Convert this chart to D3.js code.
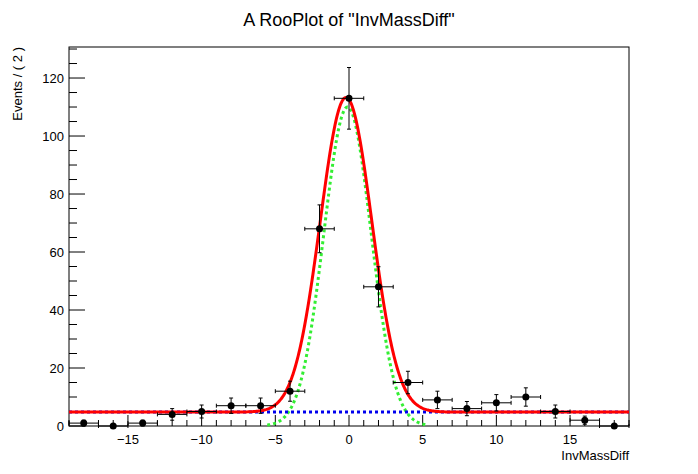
<!DOCTYPE html>
<html>
<head>
<meta charset="utf-8">
<script src="https://cdn.jsdelivr.net/npm/d3@7"></script>
<style>
body { margin: 0; background: #fff; }
text { font-family: "Liberation Sans", Arial, sans-serif; }
</style>
</head>
<body>
<div id="chart"></div>
<script>
// binned data (bin width 2)
const binCenters = [-18, -16, -14, -12, -10, -8, -6, -4, -2, 0, 2, 4, 6, 8, 10, 12, 14, 16, 18];
const counts = [1, 0, 1, 4, 5, 7, 7, 12, 68, 113, 48, 15, 9, 6, 8, 10, 5, 2, 0];
const xTicks = [-15, -10, -5, 0, 5, 10, 15];
const yTicks = [0, 20, 40, 60, 80, 100, 120];

// fitted model
const bkgLevel = 4.8;
const sigAmp = 108.5, sigMean = -0.2, sigSigma = 1.75;
const greenAmp = 110, greenMean = -0.1, greenSigma = 1.6;

const width = 698, height = 474;
const padL = 69, padR = 629, padT = 47, padB = 426;

const svg = d3.select("#chart").append("svg")
    .attr("width", width).attr("height", height);

const x = d3.scaleLinear().domain([-19, 19]).range([padL, padR]);
const y = d3.scaleLinear().domain([0, 130.7]).range([padB, padT]);

// frame
svg.append("rect").attr("x", padL).attr("y", padT)
    .attr("width", padR - padL).attr("height", padB - padT)
    .attr("fill", "none").attr("stroke", "#000");

// ticks (inside, ROOT style)
const tk = svg.append("g").attr("stroke", "#000");
d3.range(-19, 19.01, 1).forEach(v => {
    const len = v % 5 === 0 ? 11 : 6;
    tk.append("line").attr("x1", x(v)).attr("x2", x(v))
        .attr("y1", padB).attr("y2", padB - len);
});
d3.range(0, 130.1, 5).forEach(v => {
    const len = v % 20 === 0 ? 16 : 8;
    tk.append("line").attr("x1", padL).attr("x2", padL + len)
        .attr("y1", y(v)).attr("y2", y(v));
});

svg.selectAll(".xt").data(xTicks).enter().append("text")
    .attr("x", d => x(d)).attr("y", padB + 18)
    .attr("text-anchor", "middle").attr("font-size", 13)
    .text(d => d < 0 ? "\u2212" + (-d) : d);
svg.selectAll(".yt").data(yTicks).enter().append("text")
    .attr("x", padL - 5).attr("y", d => y(d) + 5)
    .attr("text-anchor", "end").attr("font-size", 13)
    .text(d => d);

svg.append("text").attr("x", width / 2).attr("y", 26)
    .attr("text-anchor", "middle").attr("font-size", 18)
    .text('A RooPlot of "InvMassDiff"');
svg.append("text").attr("transform", `translate(22,${padT}) rotate(-90)`)
    .attr("text-anchor", "end").attr("font-size", 13)
    .text("Events / ( 2 )");
svg.append("text").attr("x", padR).attr("y", padB + 34)
    .attr("text-anchor", "end").attr("font-size", 13)
    .text("InvMassDiff");

// curves
const xs = d3.range(-19, 19.001, 0.05);
const gauss = (v, a, m, s) => a * Math.exp(-0.5 * ((v - m) / s) ** 2);
const line = d3.line().x(d => x(d[0])).y(d => y(d[1]));

svg.append("path")
    .datum(xs.map(v => [v, gauss(v, greenAmp, greenMean, greenSigma)]).filter(d => d[1] > 0.3))
    .attr("d", line).attr("fill", "none").attr("stroke", "#33ee33")
    .attr("stroke-width", 3).attr("stroke-dasharray", "3,3");
svg.append("path").datum([[-19, bkgLevel], [19, bkgLevel]])
    .attr("d", line).attr("fill", "none").attr("stroke", "#0000ee")
    .attr("stroke-width", 3).attr("stroke-dasharray", "3,3");
svg.append("path")
    .datum(xs.map(v => [v, bkgLevel + gauss(v, sigAmp, sigMean, sigSigma)]))
    .attr("d", line).attr("fill", "none").attr("stroke", "#ff0000")
    .attr("stroke-width", 3);

// data points with errors
const pts = svg.append("g");
binCenters.forEach((c, i) => {
    const n = counts[i], e = Math.sqrt(n);
    const g = pts.append("g").attr("stroke", "#000");
    g.append("line").attr("x1", x(c - 1)).attr("x2", x(c + 1))
        .attr("y1", y(n)).attr("y2", y(n));
    [c - 1, c + 1].forEach(v => g.append("line").attr("x1", x(v)).attr("x2", x(v))
        .attr("y1", y(n) - 2).attr("y2", y(n) + 2));
    if (n > 0) {
        g.append("line").attr("x1", x(c)).attr("x2", x(c))
            .attr("y1", y(n + e)).attr("y2", y(Math.max(0, n - e)));
        [n + e, n - e].forEach(v => g.append("line").attr("x1", x(c) - 2).attr("x2", x(c) + 2)
            .attr("y1", y(v)).attr("y2", y(v)));
    }
    g.append("circle").attr("cx", x(c)).attr("cy", y(n)).attr("r", 3.5)
        .attr("fill", "#000").attr("stroke", "none");
});
</script>
</body>
</html>
